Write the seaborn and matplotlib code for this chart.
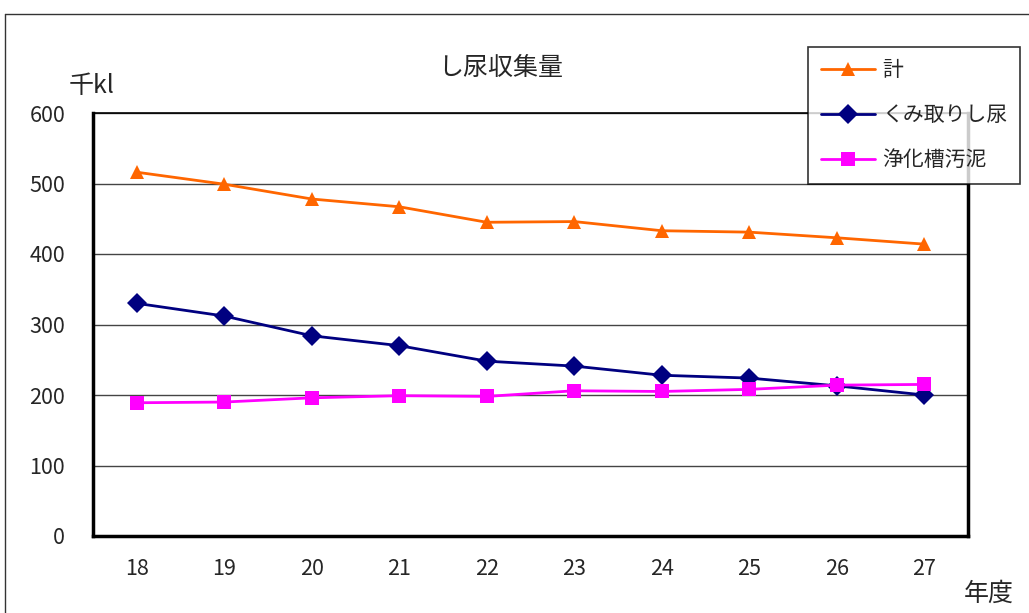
import numpy as np
import pandas as pd
import matplotlib
matplotlib.use('Agg')
import matplotlib.pyplot as plt
import seaborn as sns
from matplotlib.lines import Line2D
from matplotlib.ticker import FixedLocator

years = [18, 19, 20, 21, 22, 23, 24, 25, 26, 27]
total = [516, 499, 478, 467, 445, 446, 433, 431, 423, 414]
kumitori = [330, 312, 284, 270, 248, 241, 228, 224, 213, 200]
jokaso = [189, 190, 196, 199, 198, 206, 205, 208, 214, 215]

series_names = ['計', 'くみ取りし尿', '浄化槽汚泥']
colors = {'計': '#FF6600', 'くみ取りし尿': '#000080', '浄化槽汚泥': '#FF00FF'}
markers = {'計': '^', 'くみ取りし尿': 'D', '浄化槽汚泥': 's'}

df = pd.DataFrame({'年度': years * 3,
                   '量': total + kumitori + jokaso,
                   '系列': [n for n in series_names for _ in years]})

sns.set_style('white')
plt.rcParams['font.family'] = ['Noto Sans CJK JP', 'DejaVu Sans']
plt.rcParams['font.size'] = 15

fig = plt.figure(figsize=(10.29, 6.13), dpi=100)
ax = fig.add_axes([93/1029, 1 - 536/613, 875/1029, 423/613])

sns.lineplot(data=df, x='年度', y='量', hue='系列', style='系列',
             palette=colors, markers=markers, dashes=False, sort=False,
             linewidth=2, markersize=10, markeredgewidth=0, ax=ax, legend=False)

ax.set_xlim(17.5, 27.5)
ax.set_ylim(0, 600)
ax.set_yticks(range(0, 601, 100))
ax.set_xticks(years)
ax.xaxis.set_minor_locator(FixedLocator(np.arange(18.5, 27.5, 1)))
ax.tick_params(axis='x', which='major', length=0, pad=16, labelsize=15.5)
ax.tick_params(axis='x', which='minor', length=6, direction='in', width=1, color='black')
ax.tick_params(axis='y', length=0, pad=20, labelsize=15.5)
ax.yaxis.grid(True, color='#444444', linewidth=1)
ax.set_axisbelow(True)
ax.set_xlabel('')
ax.set_ylabel('')
for s in ['left', 'bottom', 'right']:
    ax.spines[s].set_color('black')
    ax.spines[s].set_linewidth(2.5)
ax.spines['top'].set_color('black')
ax.spines['top'].set_linewidth(1.2)

fig.text(501/1029, 1 - 68/613, 'し尿収集量', ha='center', va='center', fontsize=18)
fig.text(92/1029, 1 - 86/613, '千kl', ha='center', va='center', fontsize=18)
fig.text(989/1029, 1 - 594/613, '年度', ha='center', va='center', fontsize=18)

# outer chart border
fig.add_artist(Line2D([5/1029, 5/1029], [0, 1 - 14/613], transform=fig.transFigure,
                      color='#333333', linewidth=1))
fig.add_artist(Line2D([5/1029, 1], [1 - 14/613, 1 - 14/613], transform=fig.transFigure,
                      color='#333333', linewidth=1))

handles = [Line2D([], [], color=colors[n], marker=markers[n], markersize=10,
                  markeredgewidth=0, linewidth=2) for n in series_names]
leg = fig.legend(handles, series_names, loc='upper left',
                 bbox_to_anchor=(808/1029, 1 - 47/613), bbox_transform=fig.transFigure,
                 borderaxespad=0, frameon=True, fancybox=False, edgecolor='black',
                 fontsize=15, labelspacing=1.1, handlelength=2.6, handletextpad=0.35,
                 borderpad=0.6)
leg.get_frame().set_linewidth(1.2)

fig.savefig('out.png', dpi=100, facecolor='white')
